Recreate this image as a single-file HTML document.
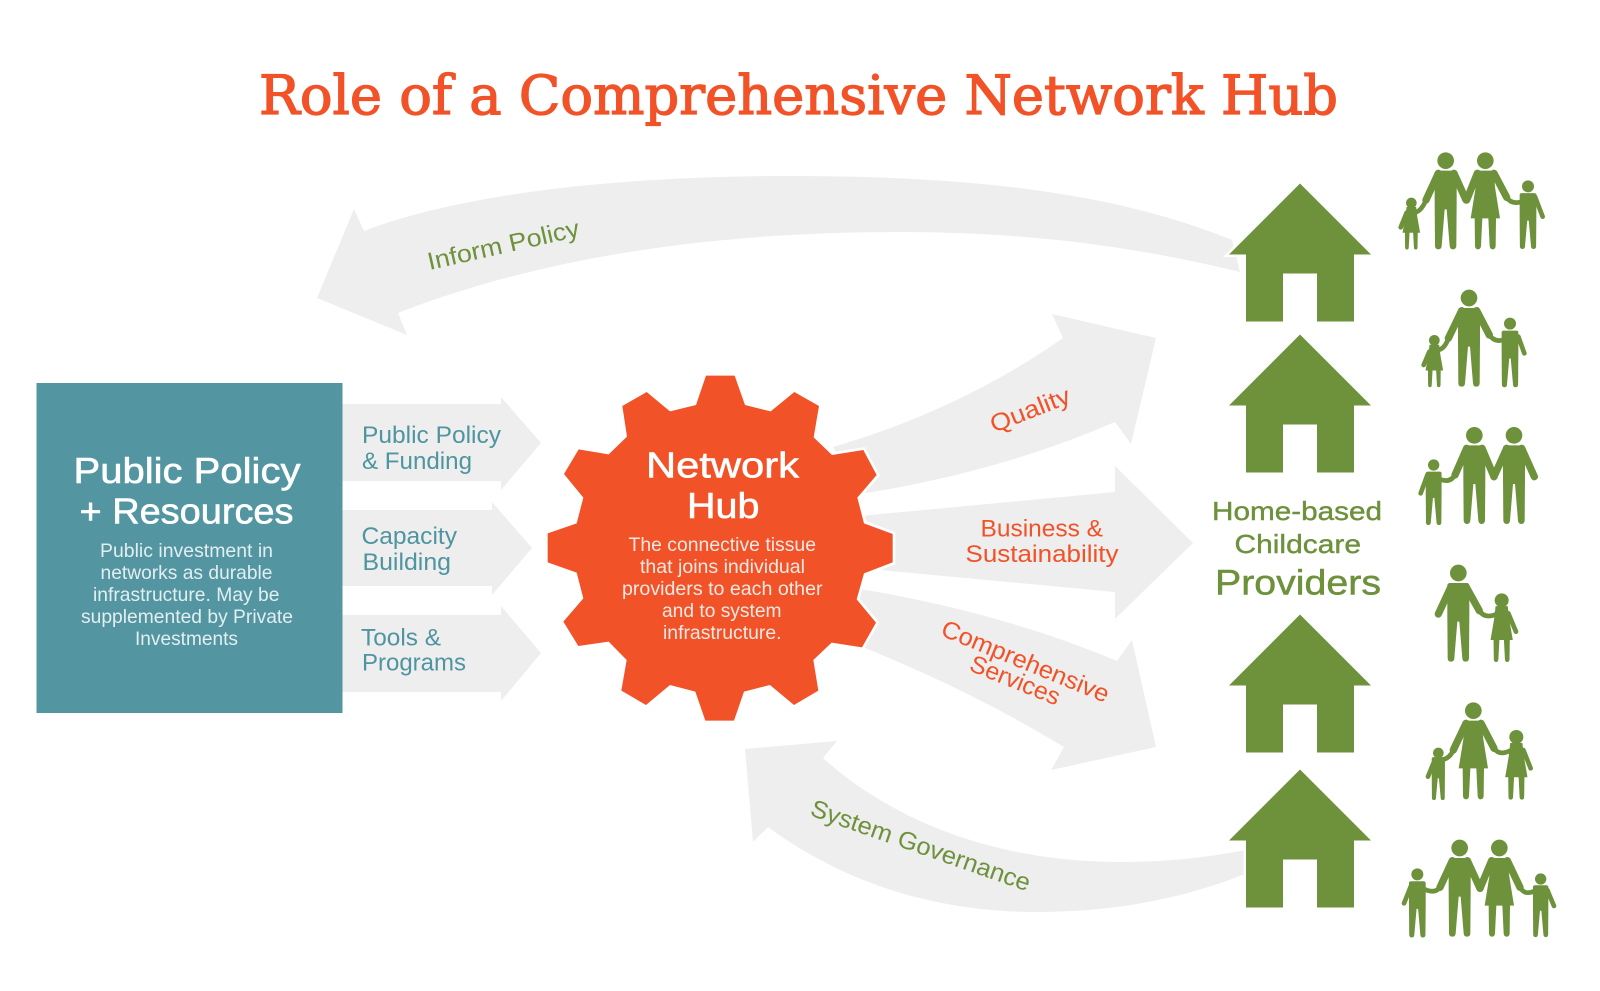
<!DOCTYPE html>
<html>
<head>
<meta charset="utf-8">
<style>
html,body{margin:0;padding:0;background:#fff}
svg{display:block}
text{font-family:"Liberation Sans",sans-serif}
.teal{fill:#4f95a1;font-size:24.5px}
.or{fill:#f25227;font-size:24.5px}
.gr{fill:#6e913c;font-size:24.5px}
.wb{fill:#fff;font-size:36px;stroke:#fff;stroke-width:.6px}
.w{fill:#f3e9e4;font-size:19.5px}
.wt{fill:#e3eef0;font-size:19.5px}
.arm{fill:none;stroke:#6e913c;stroke-linecap:round;stroke-linejoin:round;stroke-width:22}
.carm{fill:none;stroke:#6e913c;stroke-linecap:round;stroke-linejoin:round;stroke-width:14}
</style>
</head>
<body>
<svg width="1600" height="991" viewBox="0 0 1600 991" xmlns="http://www.w3.org/2000/svg">
<defs>
<g id="m" fill="#6e913c"><circle cx="0" cy="24" r="25"/><path d="M-33,62 Q-33,54 -24,54 H24 Q33,54 33,62 V150 L32,280 Q31,290 22,290 Q13,290 12,280 L3,170 H-3 L-12,280 Q-13,290 -22,290 Q-31,290 -32,280 L-33,150 Z"/></g>
<g id="f" fill="#6e913c"><circle cx="0" cy="24" r="25"/><path d="M-24,54 H24 L30,110 L44,197 H32 L31,280 Q30,290 22,290 Q14,290 13,280 L9,197 H-9 L-13,280 Q-14,290 -22,290 Q-30,290 -31,280 L-32,197 H-44 L-30,110 Z"/></g>
<g id="mb" fill="#6e913c"><path d="M-33,62 Q-33,54 -24,54 H24 Q33,54 33,62 V150 L32,280 Q31,290 22,290 Q13,290 12,280 L3,170 H-3 L-12,280 Q-13,290 -22,290 Q-31,290 -32,280 L-33,150 Z"/></g>
<g id="fb" fill="#6e913c"><path d="M-24,54 H24 L30,110 L44,197 H32 L31,280 Q30,290 22,290 Q14,290 13,280 L9,197 H-9 L-13,280 Q-14,290 -22,290 Q-30,290 -31,280 L-32,197 H-44 L-30,110 Z"/></g>
<g id="h" fill="#6e913c" stroke="#fff" stroke-width="5" paint-order="stroke"><path fill-rule="evenodd" d="M0,0 L71,71 H54 V138 H17 V90 H-17 V138 H-54 V71 H-71 Z"/></g>
</defs>
<rect width="1600" height="991" fill="#fff"/>

<text x="259" y="114" textLength="1079" lengthAdjust="spacingAndGlyphs" style="font-family:'DejaVu Serif',serif;font-size:54px;fill:#f25227;stroke:#f25227;stroke-width:1.3px">Role of a Comprehensive Network Hub</text>

<!-- grey arrows -->
<g fill="#eeeeee">
<path d="M364,231 C470,190 640,176 790,176 C960,176 1110,190 1232,240 L1240,272 C1130,245 1020,232 900,232 C740,232 560,250 398,313 L407,335 L317,298 L354,209 Z"/>
<path d="M833,447 Q960,410 1063,338 L1052,314 L1156,338 L1131,444 L1115,422 Q1000,472 860,494 Z"/>
<path d="M860,516 L1115,492 V466 L1193,543 L1115,619 V592 L880,570 Z"/>
<path d="M860,589 Q1000,612 1117,661 L1132,640 L1156,747 L1051,770 L1064,747 Q970,690 860,646 Z"/>
<path d="M745,749 L837,741 L823,758 C880,810 980,862 1120,862 C1165,862 1205,858 1245,850 L1245,874 C1180,900 1110,912 1037,912 C930,912 840,880 768,827 L753,842 Z"/>
<path d="M342,404 H501 V397 L541,443 L501,490 V481 H342 Z"/>
<path d="M342,510 H492 V502 L532,548 L492,595 V586 H342 Z"/>
<path d="M342,615 H501 V606 L541,653 L501,701 V692 H342 Z"/>
</g>

<!-- teal box -->
<rect x="36.5" y="383" width="306" height="330" fill="#5396a2"/>
<text class="wb" x="73.5" y="483" textLength="227" lengthAdjust="spacingAndGlyphs">Public Policy</text>
<text class="wb" x="79.5" y="523.5" textLength="214" lengthAdjust="spacingAndGlyphs">+ Resources</text>
<text class="wt" x="100" y="557" textLength="173" lengthAdjust="spacingAndGlyphs">Public investment in</text>
<text class="wt" x="100.5" y="579" textLength="172" lengthAdjust="spacingAndGlyphs">networks as durable</text>
<text class="wt" x="93" y="601" textLength="186.5" lengthAdjust="spacingAndGlyphs">infrastructure. May be</text>
<text class="wt" x="81" y="623" textLength="212" lengthAdjust="spacingAndGlyphs">supplemented by Private</text>
<text class="wt" x="135" y="645" textLength="103" lengthAdjust="spacingAndGlyphs">Investments</text>

<text class="teal" x="362" y="443" textLength="139" lengthAdjust="spacingAndGlyphs">Public Policy</text>
<text class="teal" x="362" y="469" textLength="110" lengthAdjust="spacingAndGlyphs">&amp; Funding</text>
<text class="teal" x="361.5" y="544" textLength="95.5" lengthAdjust="spacingAndGlyphs">Capacity</text>
<text class="teal" x="362.5" y="570" textLength="88.5" lengthAdjust="spacingAndGlyphs">Building</text>
<text class="teal" x="361" y="645.5" textLength="80" lengthAdjust="spacingAndGlyphs">Tools &amp;</text>
<text class="teal" x="362" y="670.5" textLength="104" lengthAdjust="spacingAndGlyphs">Programs</text>

<!-- gear -->
<g transform="translate(530,350) scale(.33333)">
<path fill="#f25227" stroke="#fff" stroke-width="16" paint-order="stroke" stroke-linejoin="miter" d="M528,77 L614,77 L645,165 L722,184 L793,126 L867,168 L851,262 L906,315 L1000,300 L1040,375 L982,443 L1002,520 L1088,552 L1088,637 L1002,670 L980,748 L1038,818 L996,892 L905,878 L850,930 L865,1022 L792,1065 L720,1005 L642,1025 L612,1112 L526,1112 L496,1025 L420,1005 L348,1065 L274,1022 L290,930 L236,875 L145,888 L100,815 L160,745 L140,668 L53,637 L53,550 L140,520 L160,443 L102,372 L146,298 L236,313 L291,260 L277,168 L350,126 L420,184 L498,165 Z"/>
</g>
<text class="wb" x="646" y="477.5" textLength="153" lengthAdjust="spacingAndGlyphs">Network</text>
<text class="wb" x="687" y="518" textLength="72.5" lengthAdjust="spacingAndGlyphs">Hub</text>
<text class="w" x="628.5" y="551" textLength="187.5" lengthAdjust="spacingAndGlyphs">The connective tissue</text>
<text class="w" x="640" y="573" textLength="165" lengthAdjust="spacingAndGlyphs">that joins individual</text>
<text class="w" x="622" y="595" textLength="200.5" lengthAdjust="spacingAndGlyphs">providers to each other</text>
<text class="w" x="662" y="617" textLength="119.5" lengthAdjust="spacingAndGlyphs">and to system</text>
<text class="w" x="663" y="639" textLength="118.5" lengthAdjust="spacingAndGlyphs">infrastructure.</text>

<!-- arrow labels -->
<text class="gr" transform="translate(429.5,270) rotate(-12.7)" textLength="155" lengthAdjust="spacingAndGlyphs">Inform Policy</text>
<text class="or" transform="translate(994,433) rotate(-21.5)" textLength="84" lengthAdjust="spacingAndGlyphs">Quality</text>
<text class="or" x="980.5" y="536.5" textLength="122.5" lengthAdjust="spacingAndGlyphs">Business &amp;</text>
<text class="or" x="965.5" y="562" textLength="153" lengthAdjust="spacingAndGlyphs">Sustainability</text>
<text class="or" transform="translate(939.5,635) rotate(22.3)" textLength="179" lengthAdjust="spacingAndGlyphs">Comprehensive</text>
<text class="or" transform="translate(968,670) rotate(22)" textLength="95" lengthAdjust="spacingAndGlyphs">Services</text>
<text class="gr" transform="translate(809,815) rotate(19.3)" textLength="231" lengthAdjust="spacingAndGlyphs">System Governance</text>

<!-- houses -->
<use href="#h" transform="translate(1300,183.5)"/>
<use href="#h" transform="translate(1300,334.5)"/>
<use href="#h" transform="translate(1300,614.5)"/>
<use href="#h" transform="translate(1300,769.5)"/>

<text x="1212" y="520" textLength="170" lengthAdjust="spacingAndGlyphs" style="font-size:26px;fill:#6e913c;stroke:#6e913c;stroke-width:.4px">Home-based</text>
<text x="1234.5" y="553" textLength="126.5" lengthAdjust="spacingAndGlyphs" style="font-size:26px;fill:#6e913c;stroke:#6e913c;stroke-width:.4px">Childcare</text>
<text x="1215" y="594.5" textLength="166" lengthAdjust="spacingAndGlyphs" style="font-size:35px;fill:#6e913c;stroke:#6e913c;stroke-width:.5px">Providers</text>

<!-- families upper -->
<g transform="translate(1190,140) scale(.33333)" fill="#6e913c">
<use href="#fb" transform="translate(664,172) scale(.6,.54)"/><circle cx="664" cy="189" r="16"/>
<use href="#m" transform="translate(767,38)"/>
<use href="#f" transform="translate(886,38)"/>
<use href="#mb" transform="translate(1014,121) scale(.76,.71)"/><circle cx="1014" cy="139" r="18"/>
<path class="arm" d="M745,100 L708,180"/><path class="carm" d="M708,180 Q695,212 675,218"/><path class="arm" d="M792,100 L828,180"/>
<path class="arm" d="M862,100 L830,180"/><path class="arm" d="M912,100 L950,172"/><path class="carm" d="M950,172 Q965,195 995,185"/>
<path class="carm" d="M650,218 L632,262"/><path class="carm" d="M1035,170 L1058,230"/>

<use href="#m" transform="translate(837,450)"/>
<use href="#fb" transform="translate(733,585) scale(.6,.54)"/><circle cx="733" cy="601" r="16"/>
<use href="#mb" transform="translate(960,533) scale(.76,.72)"/><circle cx="960" cy="551" r="18"/>
<path class="arm" d="M815,512 L775,595"/><path class="carm" d="M775,595 Q765,625 745,630"/><path class="arm" d="M860,512 L898,585"/><path class="carm" d="M898,585 Q915,610 945,598"/>
<path class="carm" d="M718,635 L701,675"/><path class="carm" d="M985,590 L1003,640"/>

<use href="#m" transform="translate(853,862)"/>
<use href="#m" transform="translate(972,862)"/>
<use href="#mb" transform="translate(731,958) scale(.72,.68)"/><circle cx="731" cy="975" r="17"/>
<path class="arm" d="M830,925 L795,1005"/><path class="carm" d="M795,1005 Q780,1030 750,1018"/><path class="arm" d="M876,925 L912,1010"/>
<path class="arm" d="M950,925 L912,1010"/><path class="arm" d="M995,925 L1033,1010"/><path class="carm" d="M712,1005 L692,1060"/>
</g>

<!-- families lower -->
<g transform="translate(1190,540) scale(.33333)" fill="#6e913c">
<use href="#m" transform="translate(805,75)"/>
<use href="#fb" transform="translate(935,160) scale(.76,.71)"/><circle cx="935" cy="181" r="21"/>
<path class="arm" d="M783,140 L745,222"/><path class="arm" d="M828,140 L868,212"/><path class="carm" d="M868,212 Q885,238 920,222"/><path class="carm" d="M955,220 L978,275"/>

<use href="#f" transform="translate(850,488)"/>
<use href="#mb" transform="translate(745,622) scale(.6,.545)"/><circle cx="745" cy="639" r="16"/>
<use href="#fb" transform="translate(979,570) scale(.76,.72)"/><circle cx="979" cy="591" r="21"/>
<path class="arm" d="M828,550 L790,630"/><path class="carm" d="M790,630 Q780,655 755,660"/><path class="arm" d="M873,550 L912,625"/><path class="carm" d="M912,625 Q928,648 960,632"/>
<path class="carm" d="M730,670 L714,710"/><path class="carm" d="M1000,630 L1022,685"/>

<use href="#m" transform="translate(809,900)"/>
<use href="#f" transform="translate(928,900)"/>
<use href="#mb" transform="translate(682,985) scale(.76,.715)"/><circle cx="682" cy="1003" r="18"/>
<use href="#mb" transform="translate(1052,1000) scale(.7,.66)"/><circle cx="1052" cy="1017" r="17"/>
<path class="arm" d="M787,962 L750,1042"/><path class="carm" d="M750,1042 Q735,1062 705,1048"/><path class="arm" d="M832,962 L870,1045"/>
<path class="arm" d="M905,962 L870,1045"/><path class="arm" d="M952,962 L990,1042"/><path class="carm" d="M990,1042 Q1005,1068 1035,1052"/>
<path class="carm" d="M662,1040 L642,1090"/><path class="carm" d="M1072,1050 L1092,1098"/>
</g>
</svg>
</body>
</html>
